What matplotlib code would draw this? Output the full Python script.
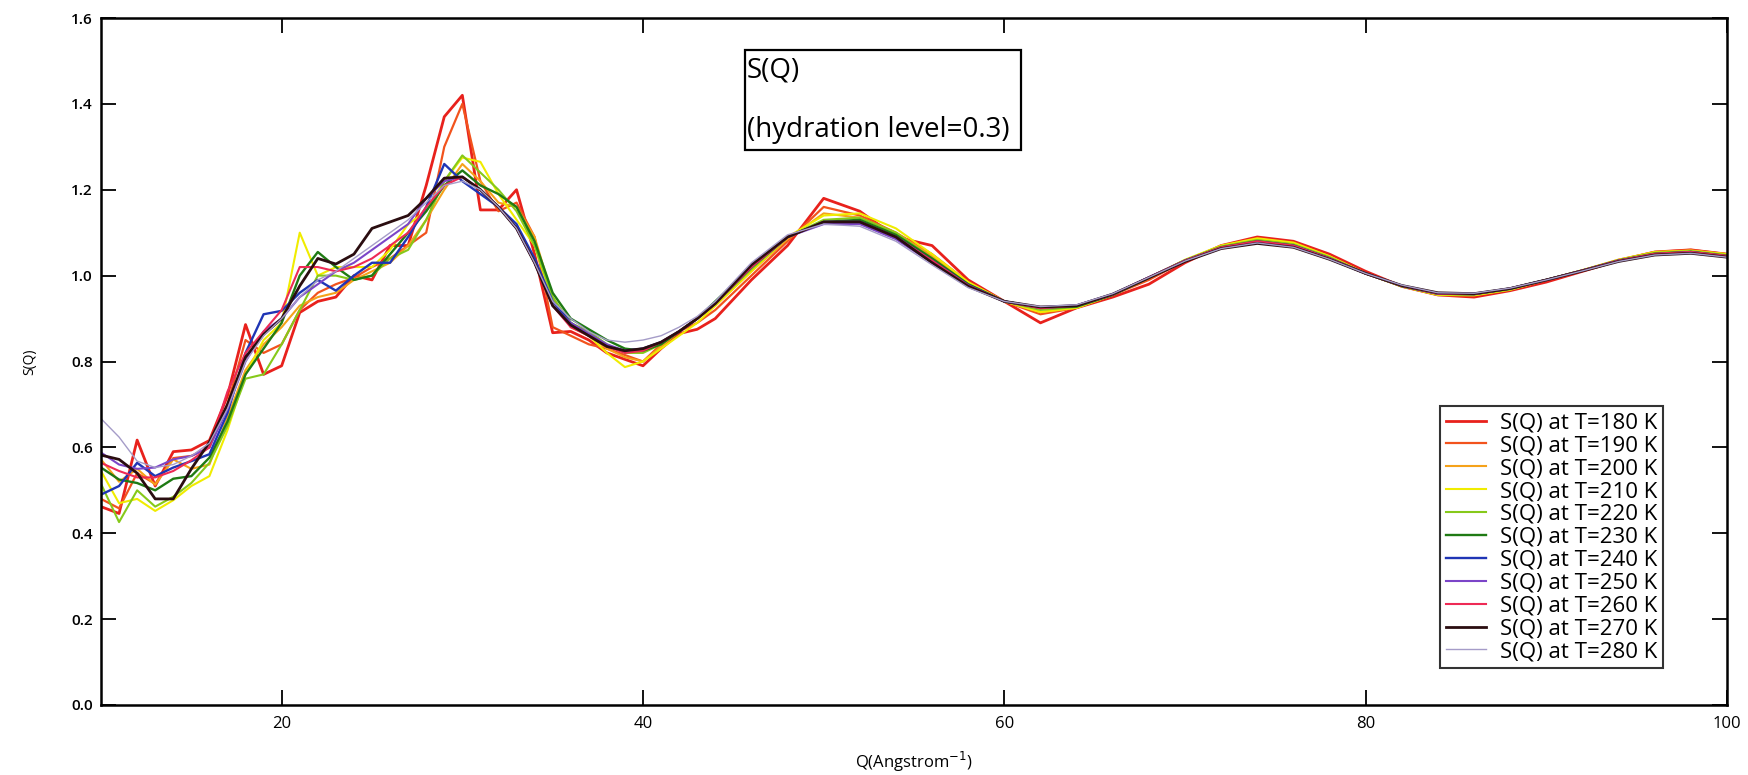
import matplotlib
matplotlib.use("Agg")
import matplotlib.pyplot as plt
from matplotlib.patches import Rectangle

plt.rcParams['font.family'] = ['Open Sans', 'DejaVu Sans']

# Q grid: 1-unit steps up to 44, 2-unit steps after
q_values = [10, 11, 12, 13, 14, 15, 16, 17, 18, 19, 20, 21, 22, 23, 24, 25, 26, 27, 28, 29,
            30, 31, 32, 33, 34, 35, 36, 37, 38, 39, 40, 41, 42, 43, 44,
            46, 48, 50, 52, 54, 56, 58, 60, 62, 64, 66, 68, 70, 72, 74, 76, 78, 80, 82, 84,
            86, 88, 90, 92, 94, 96, 98, 100]

temps = [180, 190, 200, 210, 220, 230, 240, 250, 260, 270, 280]

s_180 = [.462, .446, .617, .510, .590, .594, .616, .720, .886, .770, .790, .914, .940, .950, 1.00, .990, 1.07, 1.07, 1.21, 1.37,
         1.42, 1.153, 1.153, 1.20, 1.05, .867, .870, .850, .820, .805, .790, .830, .865, .875, .900,
         .99, 1.07, 1.18, 1.15, 1.09, 1.07, .99, .94, .89, .925, .95, .98, 1.03, 1.07, 1.09, 1.08, 1.05, 1.01, .975, .955,
         .950, .965, .985, 1.01, 1.035, 1.055, 1.06, 1.05]
s_190 = [.480, .458, .540, .515, .575, .580, .600, .700, .850, .820, .840, .920, .960, .980, .995, 1.02, 1.04, 1.07, 1.10, 1.30,
         1.40, 1.22, 1.15, 1.17, 1.09, .880, .860, .840, .830, .815, .800, .840, .870, .890, .920,
         1.00, 1.08, 1.16, 1.14, 1.10, 1.05, .985, .94, .91, .925, .955, .99, 1.035, 1.07, 1.085, 1.075, 1.045, 1.005, .975, .955,
         .955, .968, .99, 1.012, 1.037, 1.055, 1.06, 1.05]
s_200 = [.572, .520, .550, .513, .572, .550, .560, .670, .780, .840, .880, .930, .950, .960, .990, 1.01, 1.03, 1.07, 1.13, 1.20,
         1.26, 1.22, 1.17, 1.16, 1.09, .950, .880, .860, .830, .810, .800, .835, .870, .900, .930,
         1.01, 1.085, 1.145, 1.135, 1.10, 1.045, .98, .94, .915, .925, .955, .995, 1.035, 1.068, 1.085, 1.075, 1.045, 1.005, .975, .956,
         .955, .968, .99, 1.012, 1.036, 1.054, 1.058, 1.05]
s_210 = [.545, .470, .480, .452, .477, .510, .533, .640, .770, .850, .890, 1.10, 1.00, 1.02, 1.02, 1.02, 1.06, 1.12, 1.15, 1.22,
         1.275, 1.265, 1.19, 1.13, 1.07, .940, .890, .860, .820, .787, .800, .830, .860, .890, .930,
         1.01, 1.09, 1.14, 1.145, 1.11, 1.05, .985, .94, .915, .925, .955, .995, 1.037, 1.07, 1.087, 1.077, 1.045, 1.005, .975, .955,
         .954, .967, .99, 1.013, 1.037, 1.055, 1.058, 1.05]
s_220 = [.515, .426, .500, .462, .485, .517, .564, .650, .760, .770, .840, .920, 1.00, 1.00, .990, 1.00, 1.04, 1.06, 1.13, 1.22,
         1.28, 1.24, 1.20, 1.15, 1.07, .950, .890, .870, .840, .820, .820, .840, .870, .900, .935,
         1.015, 1.09, 1.13, 1.135, 1.10, 1.04, .98, .94, .92, .927, .955, .995, 1.036, 1.068, 1.083, 1.073, 1.043, 1.005, .975, .957,
         .956, .968, .99, 1.012, 1.036, 1.053, 1.057, 1.048]
s_230 = [.553, .525, .517, .500, .527, .533, .576, .660, .770, .830, .890, 1.00, 1.055, 1.02, .990, 1.00, 1.05, 1.10, 1.15, 1.21,
         1.245, 1.21, 1.19, 1.16, 1.08, .960, .900, .875, .850, .830, .825, .840, .870, .900, .940,
         1.02, 1.09, 1.125, 1.13, 1.095, 1.04, .98, .94, .925, .928, .955, .995, 1.035, 1.066, 1.08, 1.07, 1.04, 1.005, .976, .958,
         .957, .97, .99, 1.012, 1.035, 1.051, 1.055, 1.046]
s_240 = [.490, .510, .564, .533, .553, .568, .584, .680, .820, .910, .918, .960, .990, .965, 1.00, 1.03, 1.03, 1.09, 1.16, 1.26,
         1.22, 1.19, 1.16, 1.12, 1.04, .940, .890, .860, .835, .825, .830, .845, .870, .900, .935,
         1.02, 1.09, 1.125, 1.125, 1.09, 1.035, .978, .94, .925, .93, .956, .996, 1.035, 1.065, 1.079, 1.07, 1.04, 1.005, .976, .958,
         .957, .97, .99, 1.012, 1.035, 1.05, 1.055, 1.045]
s_250 = [.588, .560, .550, .553, .572, .580, .600, .690, .800, .870, .900, .950, .980, 1.01, 1.03, 1.06, 1.09, 1.12, 1.18, 1.22,
         1.23, 1.20, 1.16, 1.11, 1.03, .930, .890, .865, .840, .825, .830, .845, .870, .900, .935,
         1.025, 1.09, 1.12, 1.12, 1.085, 1.03, .975, .94, .926, .931, .957, .996, 1.035, 1.064, 1.078, 1.068, 1.039, 1.005, .977, .959,
         .958, .97, .99, 1.012, 1.034, 1.05, 1.054, 1.045]
s_260 = [.564, .545, .530, .530, .545, .570, .600, .730, .820, .870, .920, 1.02, 1.02, 1.01, 1.02, 1.04, 1.07, 1.10, 1.16, 1.21,
         1.23, 1.20, 1.16, 1.11, 1.03, .930, .880, .860, .835, .820, .825, .845, .870, .900, .935,
         1.02, 1.09, 1.125, 1.125, 1.09, 1.035, .977, .94, .924, .93, .956, .996, 1.035, 1.066, 1.08, 1.07, 1.04, 1.005, .976, .958,
         .957, .97, .99, 1.012, 1.035, 1.051, 1.055, 1.046]
s_270 = [.582, .572, .540, .480, .480, .550, .612, .700, .810, .863, .900, .976, 1.04, 1.027, 1.05, 1.11, 1.125, 1.14, 1.18, 1.227,
         1.23, 1.20, 1.16, 1.11, 1.03, .930, .885, .860, .835, .825, .830, .845, .870, .900, .935,
         1.025, 1.09, 1.125, 1.125, 1.09, 1.03, .975, .94, .927, .93, .957, .995, 1.033, 1.063, 1.075, 1.066, 1.038, 1.005, .977, .96,
         .958, .97, .99, 1.011, 1.033, 1.048, 1.052, 1.043]
s_280 = [.667, .624, .568, .553, .560, .580, .610, .690, .800, .860, .900, .950, .990, 1.01, 1.04, 1.07, 1.10, 1.13, 1.17, 1.21,
         1.22, 1.20, 1.16, 1.11, 1.03, .940, .900, .870, .850, .845, .850, .860, .880, .905, .940,
         1.03, 1.095, 1.12, 1.115, 1.08, 1.025, .972, .94, .928, .932, .958, .996, 1.034, 1.063, 1.076, 1.066, 1.038, 1.005, .978, .96,
         .959, .971, .99, 1.011, 1.033, 1.048, 1.052, 1.043]

series = [s_180, s_190, s_200, s_210, s_220, s_230, s_240, s_250, s_260, s_270, s_280]
colors = ['#e8211c', '#f2531d', '#f5a21a', '#f0ec00', '#86c91a', '#1f7a14',
          '#1f35b5', '#7b45c8', '#ee2a55', '#2a0d10', '#a59cc8']
widths = [2.0, 1.6, 1.5, 1.5, 1.5, 1.7, 1.7, 1.5, 1.5, 2.0, 1.0]

fig = plt.figure(figsize=(17.49, 7.75), dpi=100)
ax = fig.add_axes([101 / 1749, 1 - 705 / 775, (1727 - 101) / 1749, (705 - 18) / 775])

for t, s, c, w in zip(temps, series, colors, widths):
    ax.plot(q_values, s, color=c, lw=w, label=f"S(Q) at T={t} K")

ax.set_xlim(10, 100)
ax.set_ylim(0, 1.6)
ax.set_xticks([20, 40, 60, 80, 100])
ax.set_yticks([0.0, 0.2, 0.4, 0.6, 0.8, 1.0, 1.2, 1.4, 1.6])
ax.set_yticklabels([f"{v:.1f}" for v in [0.0, 0.2, 0.4, 0.6, 0.8, 1.0, 1.2, 1.4, 1.6]],
                   fontweight='semibold', fontsize=11)
ax.tick_params(axis='x', labelsize=12, pad=8)
ax.tick_params(direction='in', length=10.5, width=1.3, top=True, right=True)
ax.tick_params(axis='y', pad=6)
for sp in ax.spines.values():
    sp.set_linewidth(1.8)

ax.set_xlabel("Q(Angstrom$^{-1}$)", fontsize=12, labelpad=13)
ax.set_ylabel("S(Q)", fontsize=10, labelpad=24)

leg = ax.legend(loc='upper left', bbox_to_anchor=(0.8235, 0.435), borderaxespad=0,
                fontsize=16, frameon=True, fancybox=False, edgecolor='black',
                handlelength=1.8, handletextpad=0.6, labelspacing=0.085, borderpad=0.28)
leg.get_frame().set_linewidth(1.5)

# title box
fig.patches.append(Rectangle((745 / 1749, 1 - 150 / 775), (1021 - 745) / 1749, 100 / 775,
                             transform=fig.transFigure, fill=False, edgecolor='black', lw=1.6))
fig.text(747 / 1749, 1 - 71 / 775, "S(Q)", fontsize=20, ha='left', va='center')
fig.text(747 / 1749, 1 - 130 / 775, "(hydration level=0.3)", fontsize=20, ha='left', va='center')

fig.savefig("out.png", dpi=100, facecolor='white')
